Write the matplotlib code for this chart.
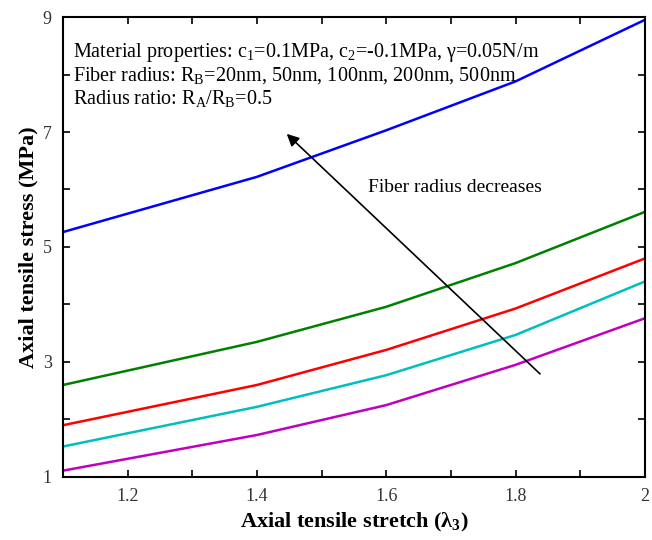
import numpy as np
import matplotlib.pyplot as plt
from matplotlib.ticker import MultipleLocator

plt.rcParams['font.family'] = ['Liberation Serif', 'DejaVu Serif']
plt.rcParams['mathtext.fontset'] = 'custom'
plt.rcParams['mathtext.rm'] = 'Liberation Serif'
plt.rcParams['mathtext.default'] = 'regular'

# ---------------- DATA ----------------
stretch = [1.1, 1.4, 1.6, 1.8, 2.0]
stress_20nm = [5.26, 6.22, 7.03, 7.88, 8.95]
stress_50nm = [2.60, 3.35, 3.96, 4.72, 5.61]
stress_100nm = [1.90, 2.60, 3.21, 3.93, 4.80]
stress_200nm = [1.53, 2.22, 2.77, 3.47, 4.40]
stress_500nm = [1.11, 1.73, 2.25, 2.95, 3.76]

x_ticks = [1.2, 1.4, 1.6, 1.8, 2.0]
x_ticklabels = ['1.2', '1.4', '1.6', '1.8', '2']
y_ticks = [1, 3, 5, 7, 9]

series = [
    (stress_20nm, (0, 0, 1)),
    (stress_50nm, (0, 0.5, 0)),
    (stress_100nm, (1, 0, 0)),
    (stress_200nm, (0, 0.75, 0.75)),
    (stress_500nm, (0.75, 0, 0.75)),
]

# ---------------- PLOT ----------------
fig = plt.figure(figsize=(6.52, 5.40), dpi=100)
ax = fig.add_axes([0.0966, 0.1167, 0.8924, 0.8518])

for vals, col in series:
    ax.plot(stretch, vals, color=col, lw=1.8)

ax.set_xlim(1.1, 2.0)
ax.set_ylim(1, 9)
ax.set_xticks(x_ticks)
ax.set_xticklabels(x_ticklabels)
ax.xaxis.set_minor_locator(MultipleLocator(0.1))
ax.set_yticks(y_ticks)
ax.yaxis.set_minor_locator(MultipleLocator(1))
ax.tick_params(which='both', direction='in', top=True, right=True,
               labelsize=13, width=1.2, colors='black', labelcolor='#333333')
ax.tick_params(which='major', length=5, pad=8)
ax.tick_params(which='minor', length=5)
for sp in ax.spines.values():
    sp.set_linewidth(1.5)

ax.set_xlabel(r'Axial tensile stretch ($\lambda_3$)', fontsize=16,
              fontweight='bold', labelpad=4)
ax.set_ylabel('Axial tensile stress (MPa)', fontsize=16,
              fontweight='bold', labelpad=3)

info = ('Material properties: c$_1$=0.1MPa, c$_2$=-0.1MPa, $\\gamma$=0.05N/m\n'
        'Fiber radius: R$_B$=20nm, 50nm, 100nm, 200nm, 500nm\n'
        'Radius ratio: R$_A$/R$_B$=0.5')
ax.text(0.017, 0.948, info, transform=ax.transAxes, fontsize=14.5,
        va='top', ha='left', linespacing=1.1)

ax.annotate('', xy=(1.443, 7.0), xytext=(1.841, 2.76),
            arrowprops=dict(arrowstyle='-|>', color='black', lw=1.2,
                            mutation_scale=18))
ax.text(1.572, 6.03, 'Fiber radius decreases', fontsize=14,
        ha='left', va='center')

fig.savefig('out.png', dpi=100)
